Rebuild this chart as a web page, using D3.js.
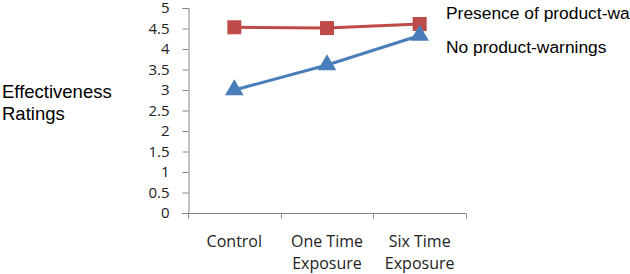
<!DOCTYPE html>
<html><head><meta charset="utf-8">
<script src="https://cdn.jsdelivr.net/npm/d3@7"></script>
<style>body{margin:0;background:#fff}svg{display:block}</style>
</head><body>
<script>
const categories = [["Control"], ["One Time", "Exposure"], ["Six Time", "Exposure"]];
const categoryKeys = ["Control", "One Time Exposure", "Six Time Exposure"];
const warningsValues = [4.53, 4.51, 4.61];
const noWarningsValues = [3.0, 3.61, 4.33];
const yTicks = [0, 0.5, 1, 1.5, 2, 2.5, 3, 3.5, 4, 4.5, 5];
const yTickLabels = ["0", "0.5", "1", "1.5", "2", "2.5", "3", "3.5", "4", "4.5", "5"];
const seriesNames = ["Presence of product-warnings", "No product-warnings"];
const yAxisTitle = ["Effectiveness", "Ratings"];

const W = 630, H = 274;
const svg = d3.select("body").append("svg").attr("width", W).attr("height", H);

const x = d3.scaleBand().domain(categoryKeys).range([188, 466]);
const y = d3.scaleLinear().domain([0, 5]).range([213, 8]);
const axisColor = "#868686";
const tickFont = "'Open Sans', 'DejaVu Sans', sans-serif";

// Y axis
const yAxis = d3.axisLeft(y).tickValues(yTicks).tickSize(6).tickPadding(13)
  .tickFormat((d, i) => yTickLabels[i]);
const gy = svg.append("g").attr("transform", "translate(188.5,0)").call(yAxis);
gy.select(".domain").attr("stroke", axisColor);
gy.selectAll(".tick line").attr("stroke", axisColor);
gy.selectAll(".tick text").attr("font-family", tickFont).attr("font-size", 15).attr("fill", "#222");

// X axis
const xTickPositions = [188, 280.7, 373.3, 466];
const gx = svg.append("g").attr("transform", "translate(0,213.5)");
gx.append("line").attr("x1", 182).attr("x2", 466).attr("stroke", axisColor);
gx.selectAll("line.t").data(xTickPositions).join("line").attr("class", "t")
  .attr("x1", d => Math.round(d) + 0.5).attr("x2", d => Math.round(d) + 0.5)
  .attr("y1", 0).attr("y2", 5).attr("stroke", axisColor);
categories.forEach((lines, i) => {
  const cx = x(categoryKeys[i]) + x.bandwidth() / 2;
  lines.forEach((t, j) => {
    gx.append("text").attr("x", cx).attr("y", 33 + j * 22).attr("text-anchor", "middle")
      .attr("font-family", tickFont).attr("font-size", 16).attr("fill", "#222").text(t);
  });
});

const cxOf = i => x(categoryKeys[i]) + x.bandwidth() / 2;
const line = d3.line().x((d, i) => cxOf(i)).y(d => y(d));

svg.append("path").datum(warningsValues).attr("d", line).attr("fill", "none")
  .attr("stroke", "#BE4B48").attr("stroke-width", 3);
svg.append("path").datum(noWarningsValues).attr("d", line).attr("fill", "none")
  .attr("stroke", "#4A7EBB").attr("stroke-width", 3);

svg.selectAll("rect.m").data(warningsValues).join("rect").attr("class", "m")
  .attr("x", (d, i) => cxOf(i) - 7).attr("y", d => y(d) - 7)
  .attr("width", 14).attr("height", 14).attr("fill", "#BE4B48");
const tri = d3.symbol().type(d3.symbolTriangle).size(150);
svg.selectAll("path.tri").data(noWarningsValues).join("path").attr("class", "tri")
  .attr("d", tri).attr("transform", (d, i) => `translate(${cxOf(i)},${y(d)})`)
  .attr("fill", "#4A7EBB");

// Legend
const legFont = "'Liberation Sans', Arial, sans-serif";
svg.append("text").attr("x", 446).attr("y", 19).attr("font-family", legFont)
  .attr("font-size", 17.4).attr("fill", "#000").text(seriesNames[0]);
svg.append("text").attr("x", 446).attr("y", 53).attr("font-family", legFont)
  .attr("font-size", 17.4).attr("fill", "#000").text(seriesNames[1]);

// Y title
yAxisTitle.forEach((t, j) => {
  svg.append("text").attr("x", 2).attr("y", 97.5 + j * 22.5).attr("font-family", legFont)
    .attr("font-size", 18.5).attr("fill", "#000").text(t);
});
</script>
</body></html>
